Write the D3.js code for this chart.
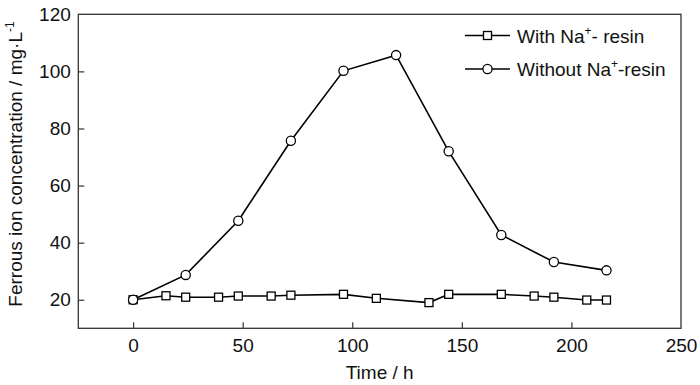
<!DOCTYPE html>
<html>
<head>
<meta charset="utf-8">
<script src="https://cdn.jsdelivr.net/npm/d3@7"></script>
<style>
    body { margin: 0; background: #fff; }
    svg { display: block; font-family: 'Liberation Sans', Arial, sans-serif; }
</style>
</head>
<body>
<div id="chart"></div>
<script>
// data
var timeWith = [0, 15, 24, 39, 48, 63, 72, 96, 111, 135, 144, 168, 183, 192, 207, 216];
var concWith = [20.0, 21.4, 20.9, 20.9, 21.3, 21.3, 21.6, 21.9, 20.5, 19.0, 21.9, 21.9, 21.3, 20.9, 19.9, 19.9];
var timeWithout = [0, 24, 48, 72, 96, 120, 144, 168, 192, 216];
var concWithout = [20.0, 28.7, 47.7, 75.7, 100.2, 105.7, 72.0, 42.7, 33.2, 30.3];

var xTicks = [0, 50, 100, 150, 200, 250];
var yTicks = [20, 40, 60, 80, 100, 120];

var fullwidth = 700;
var fullheight = 385;
var margin = { top: 14.3, right: 19, bottom: 56.7, left: 78.3 };
var width = fullwidth - margin.left - margin.right;
var height = fullheight - margin.top - margin.bottom;
var fontSize = 19;

var svg = d3.select('#chart')
    .append('svg')
    .attr('width', fullwidth)
    .attr('height', fullheight);

var g = svg.append('g')
    .attr('transform', 'translate(' + margin.left + ',' + margin.top + ')');

var x = d3.scaleLinear().domain([-25, 250]).range([0, width]);
var y = d3.scaleLinear().domain([10, 120]).range([height, 0]);

///////////// AXES
var xAxis = d3.axisBottom(x)
    .tickValues(xTicks)
    .tickSizeInner(-6)
    .tickSizeOuter(0)
    .tickPadding(10.5);

var yAxis = d3.axisLeft(y)
    .tickValues(yTicks)
    .tickSizeInner(-6)
    .tickSizeOuter(0)
    .tickPadding(7.5);

var gx = g.append('g')
    .attr('transform', 'translate(0,' + height + ')')
    .call(xAxis);
var gy = g.append('g').call(yAxis);

[gx, gy].forEach(function(a) {
    a.select('.domain').remove();
    a.selectAll('line').attr('stroke', '#333').attr('stroke-width', 1.2);
    a.selectAll('text')
        .attr('fill', '#111')
        .style('font-size', fontSize + 'px')
        .style('font-family', "'Liberation Sans', Arial, sans-serif");
});
// no tick mark at the right edge / top
gx.selectAll('.tick').filter(function(d) { return d === 250; }).select('line').remove();
gy.selectAll('.tick').filter(function(d) { return d === 120; }).select('line').remove();

// frame
g.append('rect')
    .attr('x', 0).attr('y', 0)
    .attr('width', width).attr('height', height)
    .attr('fill', 'none')
    .attr('stroke', '#333')
    .attr('stroke-width', 1.3);

///////////// AXIS TITLES
svg.append('text')
    .attr('x', margin.left + width / 2)
    .attr('y', 379)
    .attr('text-anchor', 'middle')
    .attr('fill', '#111')
    .style('font-size', fontSize + 'px')
    .text('Time / h');

var yTitle = svg.append('text')
    .attr('transform', 'translate(22,164) rotate(-90)')
    .attr('text-anchor', 'middle')
    .attr('fill', '#111')
    .style('font-size', fontSize + 'px');
yTitle.append('tspan').text('Ferrous ion concentration / mg\u00b7L');
yTitle.append('tspan').attr('dy', -8).style('font-size', '12px').text('-1');

///////////// SERIES
function makeSeries(xs, ys) {
    return xs.map(function(t, i) { return { t: t, c: ys[i] }; });
}

var line = d3.line()
    .x(function(d) { return x(d.t); })
    .y(function(d) { return y(d.c); });

var withData = makeSeries(timeWith, concWith);
var withoutData = makeSeries(timeWithout, concWithout);

g.append('path')
    .datum(withData)
    .attr('d', line)
    .attr('fill', 'none')
    .attr('stroke', '#000')
    .attr('stroke-width', 1.6);

g.selectAll('rect.sq')
    .data(withData)
    .enter()
    .append('rect')
    .attr('class', 'sq')
    .attr('x', function(d) { return x(d.t) - 4; })
    .attr('y', function(d) { return y(d.c) - 4; })
    .attr('width', 8)
    .attr('height', 8)
    .attr('fill', '#fff')
    .attr('stroke', '#000')
    .attr('stroke-width', 1.3);

g.append('path')
    .datum(withoutData)
    .attr('d', line)
    .attr('fill', 'none')
    .attr('stroke', '#000')
    .attr('stroke-width', 1.6);

g.selectAll('circle.pt')
    .data(withoutData)
    .enter()
    .append('circle')
    .attr('class', 'pt')
    .attr('cx', function(d) { return x(d.t); })
    .attr('cy', function(d) { return y(d.c); })
    .attr('r', 4.6)
    .attr('fill', '#fff')
    .attr('stroke', '#000')
    .attr('stroke-width', 1.3);

///////////// LEGEND
var legendRows = [
    { label: 'With Na', tail: '- resin', shape: 'square', y: 35.5 },
    { label: 'Without Na', tail: '-resin', shape: 'circle', y: 69 }
];

var legend = svg.append('g');
legendRows.forEach(function(r) {
    legend.append('line')
        .attr('x1', 465).attr('x2', 510)
        .attr('y1', r.y).attr('y2', r.y)
        .attr('stroke', '#000')
        .attr('stroke-width', 1.6);
    if (r.shape === 'square') {
        legend.append('rect')
            .attr('x', 487.5 - 4).attr('y', r.y - 4)
            .attr('width', 8).attr('height', 8)
            .attr('fill', '#fff').attr('stroke', '#000').attr('stroke-width', 1.3);
    } else {
        legend.append('circle')
            .attr('cx', 487.5).attr('cy', r.y).attr('r', 4.6)
            .attr('fill', '#fff').attr('stroke', '#000').attr('stroke-width', 1.3);
    }
    var t = legend.append('text')
        .attr('x', 517)
        .attr('y', r.y + 7)
        .attr('fill', '#111')
        .style('font-size', fontSize + 'px');
    t.append('tspan').text(r.label);
    t.append('tspan').attr('dy', -8).style('font-size', '12px').text('+');
    t.append('tspan').attr('dy', 8).text(r.tail);
});
</script>
</body>
</html>
